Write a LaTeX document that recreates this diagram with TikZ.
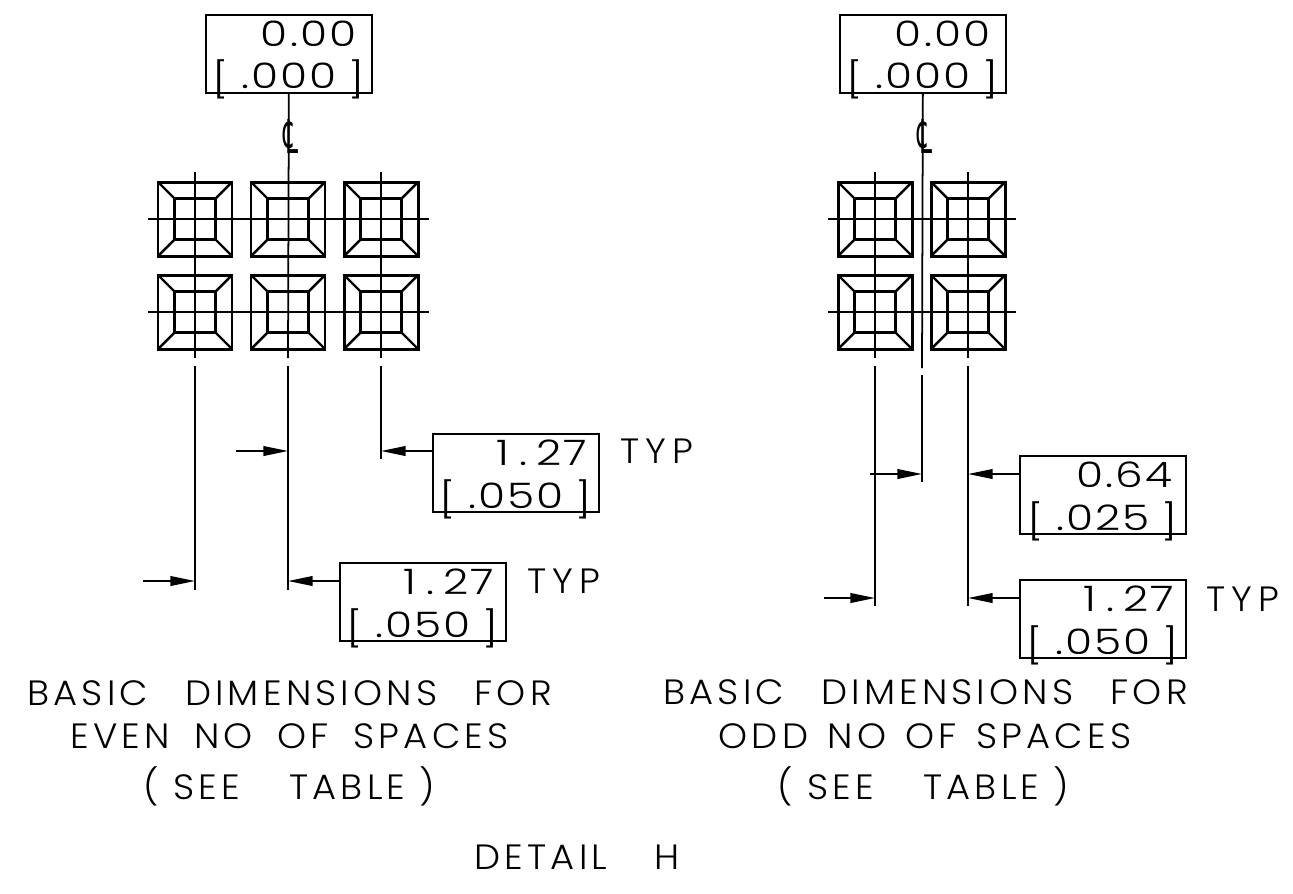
\documentclass[tikz,border=0pt]{standalone}
\usepackage{fontspec}
\setmainfont{Poppins Light}[FakeStretch=1.05,LetterSpace=12]
\newfontfamily\dimfont{Poppins Light}[FakeStretch=1.25,LetterSpace=6]
\newfontfamily\clfont{DejaVu Sans}
\usetikzlibrary{calc,arrows.meta}

\begin{document}
\begin{tikzpicture}[x=0.02cm,y=-0.02cm]
%styles
\tikzstyle{textLine}=[rectangle, text=black, inner sep=0pt, font=\fontsize{20}{22}\selectfont]
\tikzstyle{typ}=[rectangle, text=black, inner sep=0pt, anchor=west, font=\fontsize{20}{22}\selectfont\addfontfeature{LetterSpace=17}]
\tikzstyle{dimtext}=[rectangle, text=black, inner sep=0pt, font=\dimfont\fontsize{20}{22}\selectfont]
\tikzstyle{symb}=[rectangle, text=black, inner sep=0pt, font=\clfont\fontsize{19}{20}\selectfont]
\tikzstyle{dimbox}=[rectangle, draw, line width=1pt, anchor=north west, inner sep=0pt, minimum width=3.32cm, minimum height=1.56cm]
\tikzstyle{axis}=[line width=1pt]
\tikzstyle{vector}=[line width=1pt,-{Stealth[length=14pt,width=5.5pt,inset=0pt]}]
\tikzset{pad/.pic={
\draw[line width=1.7pt] (-37,-37) rectangle (37,37);
\draw[line width=1.4pt] (-20.5,-20.5) rectangle (20.5,20.5);
\draw[line width=1.4pt] (-37,-37) -- (-20.5,-20.5);
\draw[line width=1.4pt] (37,-37) -- (20.5,-20.5);
\draw[line width=1.4pt] (-37,37) -- (-20.5,20.5);
\draw[line width=1.4pt] (37,37) -- (20.5,20.5);
}}
\useasboundingbox (0,0) rectangle (1293,893);

%even spaces
\begin{scope}[shift={(0,0)}]
\foreach \x in {195,288,381} {
\pic at (\x,219) {pad};
\pic at (\x,312) {pad};
}
\coordinate (a1) at (148,219);
\coordinate (a2) at (429,219);
\coordinate (a3) at (148,312);
\coordinate (a4) at (429,312);
\draw[axis] (a1) -- (a2);
\draw[axis] (a3) -- (a4);

\node[dimbox] (top) at (205,14) {};
\node[dimtext, anchor=base east] (topA) at ($(top.north east)+(-16,32)$) {0.00};
\node[dimtext, anchor=base] (topB) at ($(top.south)+(0,-5)$) {\raisebox{-2pt}{[}\kern7pt.000\kern7pt\raisebox{-2pt}{]}};
\node[symb] (cl) at (291,136) {\scalebox{0.7}[1.4]{℄}};

\coordinate (v1) at (195,172);
\coordinate (v2) at (195,358);
\coordinate (v3) at (195,366);
\coordinate (v4) at (195,590);
\coordinate (v5) at (288,358);
\coordinate (v6) at (288,366);
\coordinate (v7) at (288,590);
\coordinate (v8) at (381,172);
\coordinate (v9) at (381,358);
\coordinate (v10) at (381,366);
\coordinate (v11) at (381,459);
\draw[axis] (v1) -- (v2);
\draw[axis] (v3) -- (v4);
\draw[axis] (top.south) -- (v5);
\draw[axis] (v6) -- (v7);
\draw[axis] (v8) -- (v9);
\draw[axis] (v10) -- (v11);

\node[dimbox] (wide) at (432,433) {};
\node[dimtext, anchor=base east] (wideA) at ($(wide.north east)+(-12,32)$) {1\kern5.5pt.\kern5.5pt27};
\node[dimtext, anchor=base] (wideB) at ($(wide.south)+(0,-4)$) {\raisebox{-2pt}{[}\kern7pt.050\kern7pt\raisebox{-2pt}{]}};
\node[typ] (wideT) at (620,451) {TYP};
\node[dimbox] (low) at (339,562) {};
\node[dimtext, anchor=base east] (lowA) at ($(low.north east)+(-12,32)$) {1\kern5.5pt.\kern5.5pt27};
\node[dimtext, anchor=base] (lowB) at ($(low.south)+(0,-4)$) {\raisebox{-2pt}{[}\kern7pt.050\kern7pt\raisebox{-2pt}{]}};
\node[typ] (lowT) at (527,581) {TYP};

\coordinate (p1) at (143,581);
\coordinate (p2) at (195,581);
\coordinate (p3) at (236,451);
\coordinate (p4) at (288,451);
\draw[vector] (p1) -- (p2);
\draw[vector] (p3) -- (p4);
\draw[vector] (wide.north west |- 0,451) -- (381,451);
\draw[vector] (low.north west |- 0,581) -- (288,581);

\node[textLine] (n1) at (289.5,693) {BASIC\hspace{21pt}DIMENSIONS\hspace{21pt}FOR};
\node[textLine] (n2) at (289.5,736) {EVEN\hspace{14pt}NO\hspace{14pt}OF\hspace{14pt}SPACES};
\node[textLine] (n3) at (289.5,786) {(\kern8pt SEE\hspace{28pt}TABLE\kern8pt)};
\end{scope}

%odd spaces
\begin{scope}[shift={(634,0)}]
\foreach \x in {241,334} {
\pic at (\x,219) {pad};
\pic at (\x,312) {pad};
}
\coordinate (b1) at (194,219);
\coordinate (b2) at (382,219);
\coordinate (b3) at (194,312);
\coordinate (b4) at (382,312);
\draw[axis] (b1) -- (b2);
\draw[axis] (b3) -- (b4);

\node[dimbox] (otop) at (205,14) {};
\node[dimtext, anchor=base east] (otopA) at ($(otop.north east)+(-16,32)$) {0.00};
\node[dimtext, anchor=base] (otopB) at ($(otop.south)+(0,-5)$) {\raisebox{-2pt}{[}\kern7pt.000\kern7pt\raisebox{-2pt}{]}};
\node[symb] (ocl) at (291,136) {\scalebox{0.7}[1.4]{℄}};

\coordinate (w1) at (241,172);
\coordinate (w2) at (241,358);
\coordinate (w3) at (241,366);
\coordinate (w4) at (241,606);
\coordinate (w5) at (288,368);
\coordinate (w6) at (288,375);
\coordinate (w7) at (288,482);
\coordinate (w8) at (334,172);
\coordinate (w9) at (334,358);
\coordinate (w10) at (334,366);
\coordinate (w11) at (334,606);
\draw[axis] (w1) -- (w2);
\draw[axis] (w3) -- (w4);
\draw[axis] (otop.south) -- (w5);
\draw[axis] (w6) -- (w7);
\draw[axis] (w8) -- (w9);
\draw[axis] (w10) -- (w11);

\node[dimbox] (mid) at (385,455) {};
\node[dimtext, anchor=base east] (midA) at ($(mid.north east)+(-14,32)$) {0.64};
\node[dimtext, anchor=base] (midB) at ($(mid.south)+(0,-4)$) {\raisebox{-2pt}{[}\kern7pt.025\kern7pt\raisebox{-2pt}{]}};
\node[dimbox] (bot) at (385,579) {};
\node[dimtext, anchor=base east] (botA) at ($(bot.north east)+(-12,32)$) {1\kern5.5pt.\kern5.5pt27};
\node[dimtext, anchor=base] (botB) at ($(bot.south)+(0,-4)$) {\raisebox{-2pt}{[}\kern7pt.050\kern7pt\raisebox{-2pt}{]}};
\node[typ] (botT) at (572,599) {TYP};

\coordinate (q1) at (236,474);
\coordinate (q2) at (288,474);
\coordinate (q3) at (190,598);
\coordinate (q4) at (241,598);
\draw[vector] (q1) -- (q2);
\draw[vector] (q3) -- (q4);
\draw[vector] (mid.north west |- 0,474) -- (334,474);
\draw[vector] (bot.north west |- 0,598) -- (334,598);

\node[textLine] (m1) at (291.5,692) {BASIC\hspace{21pt}DIMENSIONS\hspace{21pt}FOR};
\node[textLine] (m2) at (291,736) {ODD\hspace{11pt}NO\hspace{11pt}OF\hspace{11pt}SPACES};
\node[textLine] (m3) at (289.5,786) {(\kern8pt SEE\hspace{28pt}TABLE\kern8pt)};
\end{scope}

\node[textLine] (title) at (577,857) {DETAIL\hspace{27pt}H};
\end{tikzpicture}
\end{document}
